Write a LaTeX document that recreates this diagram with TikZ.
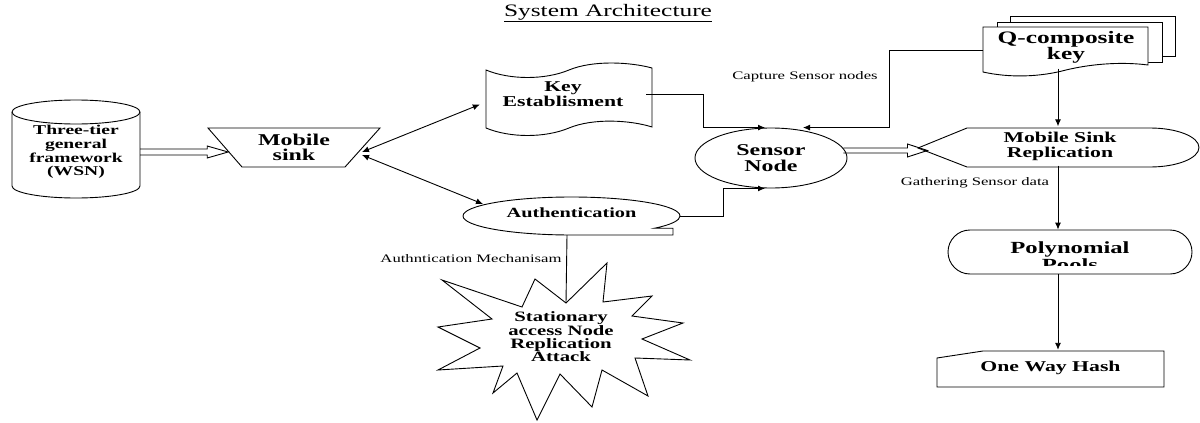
\documentclass[tikz,border=0pt]{standalone}
\usepackage{fontspec}
\setmainfont{Liberation Serif}[FakeStretch=1.45]
\usetikzlibrary{shapes.geometric,arrows.meta,calc}
\newcommand\nfnt[2]{\fontsize{#1}{#2}\selectfont\bfseries}
\begin{document}
\begin{tikzpicture}[x=1pt,y=-1pt,
  shp/.style={draw=black,line width=0.9pt,fill=white},
  txt/.style={font=\nfnt{14}{14},align=center,inner sep=0pt},
  lbl/.style={font=\fontsize{11.5}{13}\selectfont,inner sep=0pt},
  con/.style={draw=black,line width=0.9pt},
  tip/.style={-{Latex[length=7pt,width=6pt]}},
  dtip/.style={{Latex[length=7pt,width=6pt]}-{Latex[length=7pt,width=6pt]}}
]
\useasboundingbox (0,0) rectangle (1200,423);

% title
\node[font=\fontsize{17.5}{20}\selectfont,inner sep=0pt] (title) at (608,13) {\underline{System Architecture}};

% cylinder
\draw[shp] (12,112) -- (12,186) arc[start angle=180,end angle=0,x radius=64,y radius=12] -- (140,112) arc[start angle=0,end angle=-180,x radius=64,y radius=12] -- cycle;
\draw[con] (12,112) arc[start angle=180,end angle=0,x radius=64,y radius=12];
\node[txt,font=\nfnt{13.5}{13.7},minimum width=128,minimum height=60] (wsn) at (76,152) {Three-tier\\general\\framework\\(WSN)};

% mobile sink
\draw[shp] (208,128) -- (380,128) -- (345,167) -- (242,167) -- cycle;
\node[txt,font=\nfnt{16.5}{15},minimum width=172,minimum height=39] (ms) at (294,147.5) {Mobile\\sink};

% key establishment (tape)
\draw[shp] (486,70) .. controls (510,80) and (545,80) .. (569,70) .. controls (593,60) and (630,62) .. (652,68)
  -- (652,127) .. controls (630,120) and (593,118) .. (569,128) .. controls (545,138) and (510,138) .. (486,128) -- cycle;
\node[txt,font=\nfnt{15}{15},minimum width=166,minimum height=58] (key) at (563,94.5) {Key\\Establisment};

% authentication (sequential storage)
\draw[shp] (571.5,235) arc[start angle=90,end angle=400,x radius=108.5,y radius=19] -- (673,228.2) -- (673,235) -- cycle;
\node[txt,minimum width=217,minimum height=38] (auth) at (571.5,216) {\raisebox{7pt}{Authentication}};

% sensor node
\node[shp,txt,font=\nfnt{16.5}{16},ellipse,minimum width=152,minimum height=60] (sn) at (771,158) {Sensor\\Node};

% Q-composite key (multi document)
\draw[shp] (1010,16) rectangle (1175,56);
\draw[shp] (997,22) rectangle (1162,62);
\draw[shp] (983,27) -- (1148,27) -- (1148,65) .. controls (1125,62) and (1095,63) .. (1066,70) .. controls (1040,77) and (1010,78) .. (983,72) -- cycle;
\node[txt,font=\nfnt{17.5}{16},minimum width=165,minimum height=45] (qk) at (1066,47) {Q-composite\\key};

% mobile sink replication (display)
\draw[shp] (918,148) -- (967,128) -- (1150,128) arc[start angle=-90,end angle=90,x radius=49,y radius=19.5] -- (967,167) -- cycle;
\node[txt,font=\nfnt{15}{15},minimum width=200,minimum height=39] (msr) at (1060,146) {Mobile Sink\\Replication};

% polynomial pools
\node[shp,rounded corners=22pt,minimum width=244,minimum height=44] (pp) at (1070,252) {};
\begin{scope}
  \clip (948,230) rectangle (1192,265);
  \node[txt,font=\nfnt{17}{14}] (ppt) at (1070,256) {Polynomial\\Pools};
\end{scope}

% one way hash (manual input)
\draw[shp] (937,387) -- (937,358) -- (983,351) -- (1164,351) -- (1164,387) -- cycle;
\node[txt,font=\nfnt{15}{15},minimum width=227,minimum height=36] (owh) at (1050.5,368) {One Way Hash};

% starburst
\draw[shp] (535,279) -- (566,303) -- (607,263) -- (603,302) -- (652,296) -- (632,316) -- (683,323) -- (642,339) -- (690,360) -- (635,358) -- (648,396) -- (602,370) -- (592,407) -- (560,374) -- (537,420) -- (517,373) -- (493,393) -- (503,366) -- (438,370) -- (480,348) -- (438,327) -- (492,319) -- (442,280) -- (522,307) -- cycle;
\node[txt,font=\nfnt{14.3}{13.4}] (sa) at (561,337) {Stationary\\access Node\\Replication\\Attack};
\coordinate (sa-in) at (566,303);

% labels
\node[lbl] (cap) at (805,77) {Capture Sensor nodes};
\node[lbl] (gath) at (975,183) {Gathering Sensor data};
\node[lbl] (mech) at (471,259) {Authntication Mechanisam};

% connectors
\coordinate (col) at (1058,0);
\coordinate (ms-r) at (362,152);
\coordinate (auth-l) at (483,204);

% hollow arrow wsn -> mobile sink
\draw[con] (wsn.east) ++(0,-3) -- ++(67,0) -- ++(0,-3) -- ++(21,6) -- ++(-21,6) -- ++(0,-3) -- ++(-67,0);

% hollow arrow sensor node -> mobile sink replication
\draw[con] (sn.east) ++(-4,-10) -- ++(64,0) -- ++(0,-4) -- ++(20,6.5) -- ++(-20,6.5) -- ++(0,-4) -- ++(-64,0);

\draw[con,dtip] (ms-r) -- ($(key.west)+(0,10)$);
\draw[con,dtip] ($(ms-r)+(0,3)$) -- (auth-l);

\draw[con,tip] (key.east) -- ++(57,0) |- ($(sn.north)+(-6,0)$);
\draw[con,tip] ($(qk.west)+(0,3)$) -- ++(-94,0) |- ($(sn.north)+(32,0)$);
\draw[con,tip] (auth.east) -- ++(43,0) |- ($(sn.south)+(-6,0)$);
\draw[con] ($(auth.south)+(-4.5,0)$) -- (sa-in);

\draw[con,tip] (qk.south -| col) ++(0,-1) -- (msr.north -| col);
\draw[con,tip] (msr.south -| col) -- (pp.north -| col);
\draw[con,tip] (pp.south -| col) -- (owh.north -| col);
\end{tikzpicture}
\end{document}
